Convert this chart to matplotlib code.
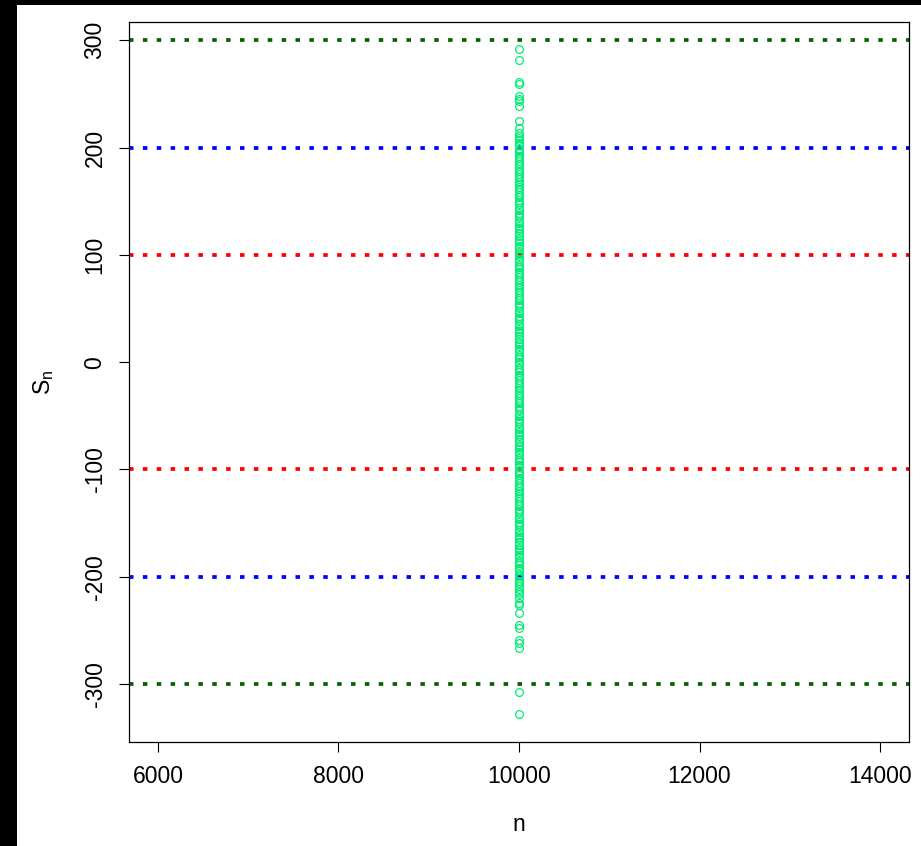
"""Simulated random walk endpoints S_n at n = 10000 with reference bands."""

import matplotlib

matplotlib.use("Agg")
import matplotlib.pyplot as plt
import numpy as np
from matplotlib.patches import Rectangle

plt.rcParams["font.family"] = ["Liberation Sans", "DejaVu Sans"]
plt.rcParams["axes.unicode_minus"] = False

N_STEPS = 10000

# S_n values (all at n = 10000)
S_TOP = [292, 282, 261, 259, 248, 245, 243, 239, 225, 218, 214, 211]
S_DENSE_POS = [
    209, 207, 204, 202, 199, 197, 195, 192, 190, 187, 185, 183, 180, 178, 175,
    173, 171, 168, 166, 163, 161, 159, 156, 154, 151, 149, 147, 144, 142, 139,
    137, 135, 132, 130, 127, 125, 123, 120, 118, 115, 113, 111, 108, 106, 103,
    101, 99, 96, 94, 91, 89, 87, 84, 82, 79, 77, 75, 72, 70, 67, 65, 63, 60,
    58, 55, 53, 51, 48, 46, 43, 41, 39, 36, 34, 31, 29, 27, 24, 22, 19, 17,
    15, 12, 10, 7, 5, 3, 0,
]
S_DENSE_NEG = [
    -2, -5, -7, -9, -12, -14, -17, -19, -21, -24, -26, -29, -31, -33, -36,
    -38, -41, -43, -45, -48, -50, -53, -55, -57, -60, -62, -65, -67, -69, -72,
    -74, -77, -79, -81, -84, -86, -89, -91, -93, -96, -98, -101, -103, -105,
    -108, -110, -113, -115, -117, -120, -122, -125, -127, -129, -132, -134,
    -137, -139, -141, -144, -146, -149, -151, -153, -156, -158, -161, -163,
    -165, -168, -170, -173, -175, -177, -180, -182, -185, -187, -189, -192,
    -194, -197, -199, -201, -204, -206, -209, -211,
]
S_BOTTOM = [-214, -216, -220, -224, -226, -234, -245, -248, -259, -262, -266,
            -307, -328]

BAND_LEVELS = [300, 200, 100, -100, -200, -300]
BAND_COLORS = ["#006400", "#0000FF", "#FF0000", "#FF0000", "#0000FF", "#006400"]

X_TICKS = [6000, 8000, 10000, 12000, 14000]
Y_TICKS = [-300, -200, -100, 0, 100, 200, 300]

s_vals = np.array(S_TOP + S_DENSE_POS + S_DENSE_NEG + S_BOTTOM, dtype=float)
n_vals = np.full_like(s_vals, N_STEPS)

fig = plt.figure(figsize=(9.21, 8.46), dpi=100, facecolor="black")
# white canvas inside the black screenshot frame
fig.patches.append(Rectangle((17 / 921, 0), 1, 1 - 5 / 846,
                             transform=fig.transFigure, facecolor="white",
                             edgecolor="none", zorder=-10))

ax = fig.add_axes([129 / 921, 104 / 846, 780 / 921, 720 / 846])
ax.set_facecolor("white")

ax.plot(n_vals, s_vals, linestyle="none", marker="o", markersize=5.6,
        markerfacecolor="none", markeredgecolor="#00EE76",
        markeredgewidth=0.9, zorder=3)

for lvl, col in zip(BAND_LEVELS, BAND_COLORS):
    ax.axhline(lvl, color=col, linewidth=2.7, linestyle=(0, (1.2, 2.5)),
               dash_capstyle="butt", zorder=2)

ax.set_xlim(5679, 14321)
ax.set_ylim(-354, 317)
ax.set_xticks(X_TICKS)
ax.set_yticks(Y_TICKS)
ax.tick_params(direction="out", length=7.2, width=0.8, labelsize=16.5,
               color="black", pad=9)
for lab in ax.get_yticklabels():
    lab.set_rotation(90)
    lab.set_va("center")

for sp in ax.spines.values():
    sp.set_linewidth(0.9)
    sp.set_color("black")

ax.set_xlabel("n", fontsize=16.5, labelpad=18)
ax.set_ylabel(r"$\mathregular{S_n}$", fontsize=16.5, labelpad=20)

fig.savefig("out.png", dpi=100, facecolor=fig.get_facecolor())
